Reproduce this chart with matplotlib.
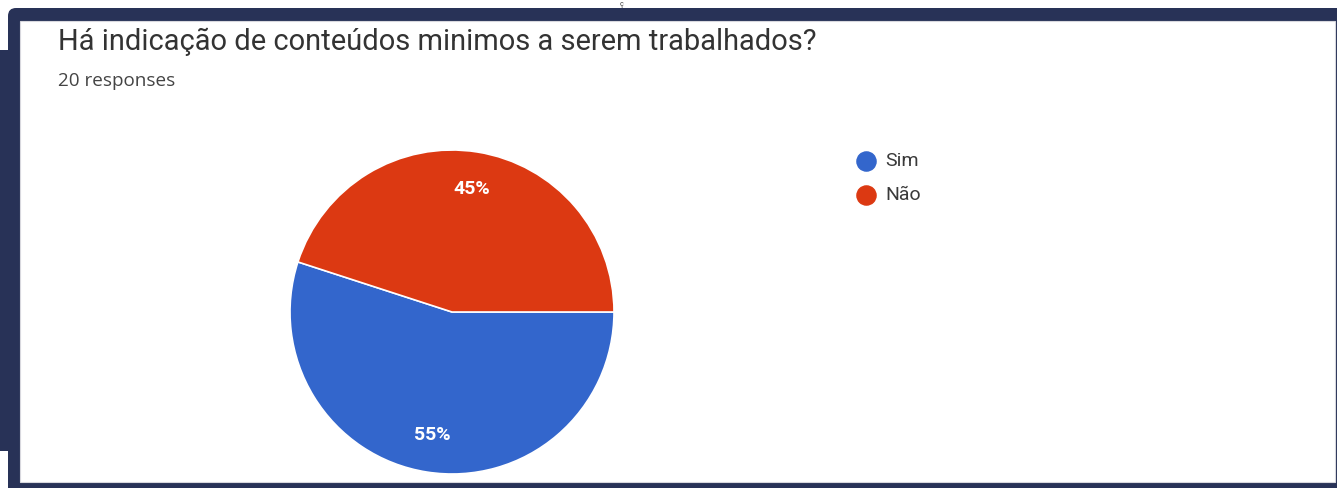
import matplotlib
matplotlib.use("Agg")
import matplotlib.pyplot as plt
from matplotlib.patches import Rectangle, FancyBboxPatch

title = "Há indicação de conteúdos minimos a serem trabalhados?"
subtitle = "20 responses"
labels = ["Sim", "Não"]
values = [55, 45]
colors = ["#3366CC", "#DC3912"]

W, H = 1337, 488
NAVY = "#283257"
plt.rcParams['font.family'] = ['Roboto', 'DejaVu Sans']

fig = plt.figure(figsize=(W / 100, H / 100), dpi=100)
fig.patch.set_facecolor("white")

bg = fig.add_axes([0, 0, 1, 1])
bg.set_xlim(0, W)
bg.set_ylim(H, 0)
bg.axis("off")

# frame
bg.add_patch(FancyBboxPatch((8, 8), W + 20, H + 20, boxstyle="round,pad=0,rounding_size=8",
                            facecolor=NAVY, edgecolor="none"))
bg.add_patch(Rectangle((0, 50), 20, 401, facecolor=NAVY, edgecolor="none"))
bg.add_patch(Rectangle((20, 21), 1315, 461, facecolor="white", edgecolor="#d8d8de", linewidth=0.8))
bg.text(622, 0.5, "ç", fontsize=5, color="#333333", ha="center", va="top")

# texts
bg.text(58, 42, title, fontsize=20.9, color="#333333", ha="left", va="center")
bg.text(58, 81, subtitle, fontsize=13.6, color="#444444", ha="left", va="center",
        family=["Open Sans", "DejaVu Sans"])

# legend
leg_y = [161, 195]
for lab, col, y in zip(labels, colors, leg_y):
    bg.scatter([866], [y], s=190, color=col, zorder=3)
    bg.text(885, y, lab, fontsize=14, color="#3a3a3a", ha="left", va="center")

# pie
cx, cy, r = 452, 312, 162
pax = fig.add_axes([(cx - r) / W, (H - cy - r) / H, 2 * r / W, 2 * r / H])
wedges, texts, autotexts = pax.pie(values, colors=colors, startangle=0, counterclock=False,
                                   autopct="%d%%", pctdistance=0.77,
                                   wedgeprops=dict(edgecolor="white", linewidth=1.2),
                                   textprops=dict(color="white", fontsize=14, fontweight="bold"))
pax.set_xlim(-1, 1)
pax.set_ylim(-1, 1)
pax.set_aspect("equal")
pax.axis("off")

fig.savefig("out.png", dpi=100, facecolor="white")
